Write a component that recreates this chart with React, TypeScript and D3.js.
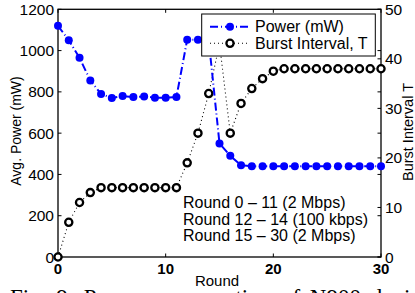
import React from "react";
import * as d3 from "d3";

const rounds = d3.range(0, 31);
const power = [1120, 1050, 965, 855, 790, 770, 780, 775, 778, 772, 772, 775, 1053, 1053, 1050, 550, 490, 445, 440, 440, 440, 440, 440, 440, 440, 440, 440, 440, 440, 440, 440];
const burst = [0, 7, 11, 13, 14, 14, 14, 14, 14, 14, 14, 14, 19, 25, 33, 43, 25, 31, 34, 36, 37.5, 38, 38, 38, 38, 38, 38, 38, 38, 38, 38];
const xTicks = [0, 10, 20, 30];
const leftTicks = [0, 200, 400, 600, 800, 1000, 1200];
const rightTicks = [0, 10, 20, 30, 40, 50];
const notes = ["Round 0 \u2013 11 (2 Mbps)", "Round 12 \u2013 14 (100 kbps)", "Round 15 \u2013 30 (2 Mbps)"];
const legendItems = ["Power (mW)", "Burst Interval, T"];

const W = 415;
const H = 293;
const left = 58, right = 381, top = 9.3, bottom = 257;
const font = "'Liberation Sans', Arial, sans-serif";

export default function App() {
  const x = d3.scaleLinear().domain([0, 30]).range([left, right]);
  const yL = d3.scaleLinear().domain([0, 1200]).range([bottom, top]);
  const yR = d3.scaleLinear().domain([0, 50]).range([bottom, top]);

  const powerLine = d3.line<number>().x((d, i) => x(rounds[i])).y(d => yL(d));
  const burstLine = d3.line<number>().x((d, i) => x(rounds[i])).y(d => yR(d));

  const tl = 3.5;

  return (
    <svg width={W} height={H} style={{ position: "absolute", left: 0, top: 0, background: "#fff" }} fontFamily={font}>
      {/* frame */}
      <rect x={left} y={top} width={right - left} height={bottom - top} fill="none" stroke="#000" strokeWidth={1.3} />

      {/* x ticks */}
      {xTicks.map(t => (
        <g key={"x" + t}>
          <line x1={x(t)} x2={x(t)} y1={bottom} y2={bottom - tl} stroke="#000" />
          <line x1={x(t)} x2={x(t)} y1={top} y2={top + tl} stroke="#000" />
          <text x={x(t)} y={274} fontSize={15} fontWeight="bold" textAnchor="middle">{t}</text>
        </g>
      ))}

      {/* left ticks */}
      {leftTicks.map(t => (
        <g key={"l" + t}>
          <line x1={left} x2={left + tl} y1={yL(t)} y2={yL(t)} stroke="#000" />
          <line x1={right} x2={right - tl} y1={yL(t)} y2={yL(t)} stroke="#000" />
          <text x={54} y={yL(t)} fontSize={15.5} textAnchor="end" dominantBaseline="central">{t}</text>
        </g>
      ))}

      {/* right ticks */}
      {rightTicks.map(t => (
        <g key={"r" + t}>
          <line x1={right} x2={right - tl} y1={yR(t)} y2={yR(t)} stroke="#000" />
          <text x={385} y={yR(t)} fontSize={15.5} dominantBaseline="central">{t}</text>
        </g>
      ))}

      {/* axis titles */}
      <text transform={`translate(21,131) rotate(-90)`} fontSize={14} textAnchor="middle">Avg. Power (mW)</text>
      <text transform={`translate(413,132) rotate(-90)`} fontSize={14.5} textAnchor="middle">Burst Interval T</text>
      <text x={217} y={286} fontSize={15} textAnchor="middle">Round</text>

      {/* annotations */}
      {notes.map(n => (
        <text key={n} x={183} y={208 + notes.indexOf(n) * 16.5} fontSize={16}>{n}</text>
      ))}

      {/* burst interval series */}
      <path d={burstLine(burst) ?? ""} fill="none" stroke="#000" strokeWidth={1.1} strokeDasharray="1,3" />
      {burst.map((d, i) => (
        <circle key={"b" + i} cx={x(rounds[i])} cy={yR(d)} r={3.6} fill="#fff" stroke="#000" strokeWidth={2.3} />
      ))}

      {/* power series */}
      <path d={powerLine(power) ?? ""} fill="none" stroke="#0000ff" strokeWidth={2} strokeDasharray="8,3,1,3" />
      {power.map((d, i) => (
        <circle key={"p" + i} cx={x(rounds[i])} cy={yL(d)} r={4} fill="#0000ff" />
      ))}

      {/* legend */}
      <rect x={201.7} y={14} width={173.6} height={42} fill="#fff" stroke="#000" strokeWidth={1} />
      <line x1={210} x2={250} y1={26.7} y2={26.7} stroke="#0000ff" strokeWidth={2} strokeDasharray="8,3,1,3" />
      <circle cx={230} cy={26.7} r={4} fill="#0000ff" />
      <line x1={210} x2={250} y1={43.3} y2={43.3} stroke="#000" strokeWidth={1.1} strokeDasharray="1,3" />
      <circle cx={230} cy={43.3} r={3.6} fill="#fff" stroke="#000" strokeWidth={2.3} />
      {legendItems.map((t, i) => (
        <text key={t} x={255} y={26.7 + i * 16.6} fontSize={16} dominantBaseline="central">{t}</text>
      ))}

      {/* caption (cut off at the bottom edge, as in the source figure) */}
      <text x={10} y={304.5} fontSize={23} fontFamily="'Liberation Serif', 'Times New Roman', serif" wordSpacing={4}>Fig. 9: Power consumption of N900 devices</text>
    </svg>
  );
}
